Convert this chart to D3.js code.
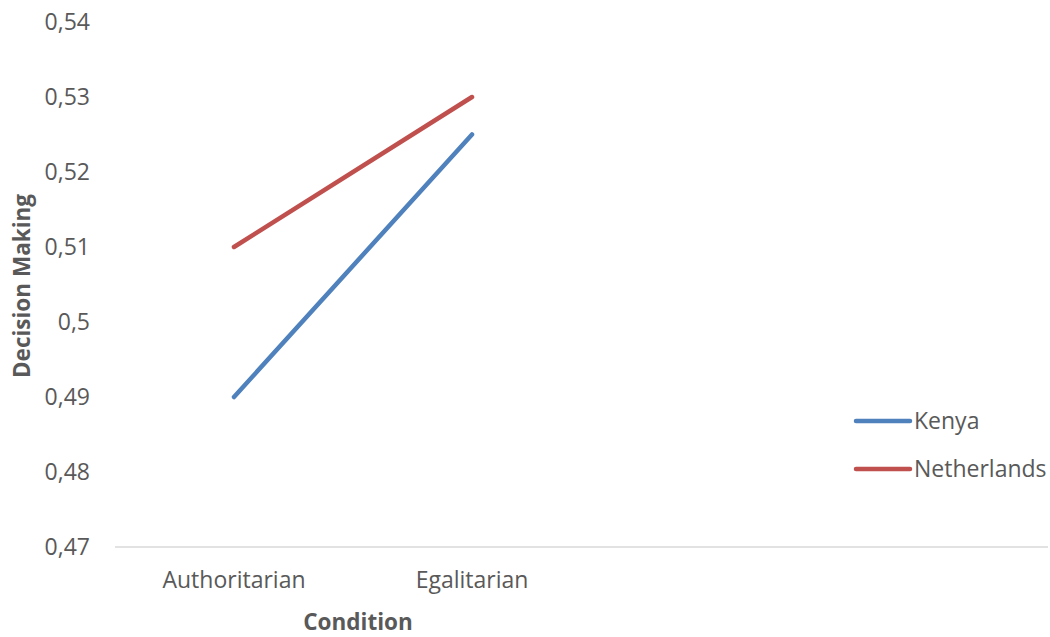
<!DOCTYPE html>
<html>
<head>
<meta charset="utf-8">
<script src="https://cdn.jsdelivr.net/npm/d3@7"></script>
<style>
  body { margin: 0; background: #fff; }
  text { font-family: "Open Sans", sans-serif; fill: #595959; }
</style>
</head>
<body>
<script>
const w = 1050;
const h = 637;

// data
const conditions = ["Authoritarian", "Egalitarian"];
const seriesNames = ["Kenya", "Netherlands"];
const kenya = [0.49, 0.525];
const netherlands = [0.51, 0.53];
const yTicks = [0.47, 0.48, 0.49, 0.50, 0.51, 0.52, 0.53, 0.54];

const colors = ["#4F81BD", "#C0504D"];
const series = [kenya, netherlands];

const plotLeft = 115;
const plotRight = 1048;
const plotTop = 22;
const plotBottom = 547;
const fontSize = "23px";

const svg = d3.select("body").append("svg").attr("width", w).attr("height", h);

const xScale = d3.scaleBand()
  .domain(conditions)
  .range([plotLeft, plotLeft + 238 * conditions.length]);

const yScale = d3.scaleLinear()
  .domain([0.47, 0.54])
  .range([plotBottom, plotTop]);

// y axis labels only
const yAxis = d3.axisLeft(yScale)
  .tickValues(yTicks)
  .tickSize(0)
  .tickPadding(0)
  .tickFormat(d => d3.format(".2~f")(d).replace(".", ","));

svg.append("g")
  .attr("transform", "translate(90,0)")
  .call(yAxis)
  .call(g => g.select(".domain").remove())
  .selectAll("text")
  .style("font-size", fontSize)
  .style("font-family", "'Open Sans', sans-serif")
  .attr("fill", "#595959");

// bottom axis line
svg.append("line")
  .attr("x1", plotLeft).attr("x2", plotRight)
  .attr("y1", plotBottom).attr("y2", plotBottom)
  .attr("stroke", "#d9d9d9")
  .attr("stroke-width", 1.5);

const xAxis = d3.axisBottom(xScale).tickSize(0).tickPadding(25);
svg.append("g")
  .attr("transform", "translate(0," + plotBottom + ")")
  .call(xAxis)
  .call(g => g.select(".domain").remove())
  .selectAll("text")
  .style("font-size", fontSize)
  .style("font-family", "'Open Sans', sans-serif")
  .attr("fill", "#595959");

// lines
const line = d3.line()
  .x((d, i) => xScale(conditions[i]) + xScale.bandwidth() / 2)
  .y(d => yScale(d));

svg.selectAll(".series")
  .data(series)
  .enter()
  .append("path")
  .attr("class", "series")
  .attr("d", line)
  .attr("fill", "none")
  .attr("stroke", (d, i) => colors[i])
  .attr("stroke-width", 4.5)
  .attr("stroke-linecap", "round");

// axis titles
svg.append("text")
  .attr("x", 358)
  .attr("y", 630)
  .attr("text-anchor", "middle")
  .style("font-size", "22.5px")
  .style("font-weight", "bold")
  .text("Condition");

svg.append("text")
  .attr("transform", "translate(30,286) rotate(-90)")
  .attr("text-anchor", "middle")
  .style("font-size", "22.5px")
  .style("font-weight", "bold")
  .text("Decision Making");

// legend
const legend = svg.selectAll(".legend")
  .data(seriesNames)
  .enter()
  .append("g")
  .attr("class", "legend")
  .attr("transform", (d, i) => "translate(856," + (421 + i * 48) + ")");

legend.append("line")
  .attr("x1", 0).attr("x2", 54)
  .attr("stroke", (d, i) => colors[i])
  .attr("stroke-width", 4.5)
  .attr("stroke-linecap", "round");

legend.append("text")
  .attr("x", 58)
  .attr("dy", "0.35em")
  .style("font-size", fontSize)
  .text(d => d);
</script>
</body>
</html>
